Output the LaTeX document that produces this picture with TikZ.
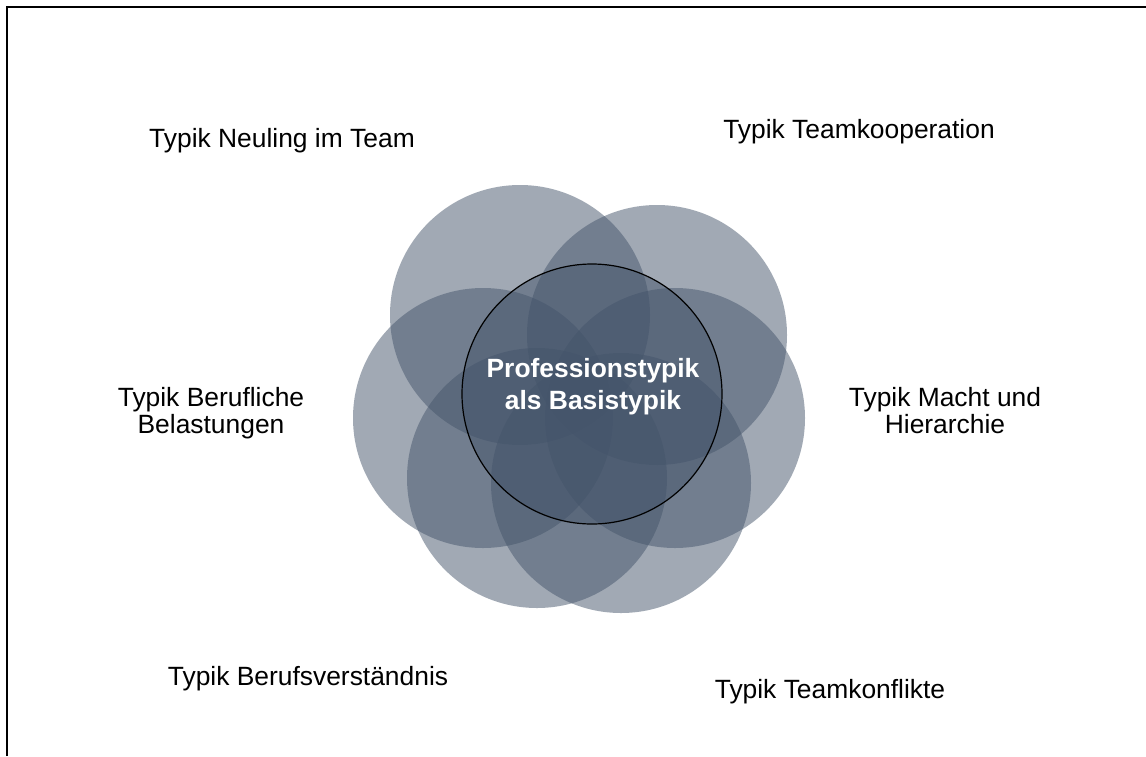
\documentclass[tikz,border=0pt]{standalone}
\usepackage{fontspec}
\setmainfont{Liberation Sans}
\usepackage{tikz}
\definecolor{schiefer}{HTML}{44546A}

\begin{document}
\begin{tikzpicture}[x=0.5pt,y=-0.5pt,
  kreis/.style={circle,fill=schiefer,fill opacity=0.5,minimum size=130pt,inner sep=0pt},
  typik/.style={anchor=base,align=center,font=\fontsize{13.2}{13.35}\selectfont}]
\useasboundingbox (0,0) rectangle (1146,756);
\draw[line width=1pt] (7,756)--(7,7)--(1146,7);
% the six types round the base
\node[kreis] (tl) at (520,315) {};
\node[kreis] (tr) at (657,335) {};
\node[kreis] (l) at (483,418) {};
\node[kreis] (r) at (675,418) {};
\node[kreis] (bl) at (537,478) {};
\node[kreis] (br) at (621,483) {};
\node[kreis,draw=black,draw opacity=1,line width=0.6pt] (basis) at (592,394) {};
\node[text=white,anchor=base,align=center,font=\bfseries\fontsize{13.2}{16}\selectfont] (basistext) at (593,409) {Professionstypik\\als Basistypik};
% labels
\node[typik] (neuling) at (282,147) {Typik Neuling im Team};
\node[typik] (koop) at (859,138) {Typik Teamkooperation};
\node[typik] (belast) at (211,433) {Typik Berufliche\\Belastungen};
\node[typik] (macht) at (945,433) {Typik Macht und\\Hierarchie};
\node[typik] (verst) at (308,685) {Typik Berufsverständnis};
\node[typik] (konfl) at (830,698) {Typik Teamkonflikte};
\end{tikzpicture}
\end{document}
